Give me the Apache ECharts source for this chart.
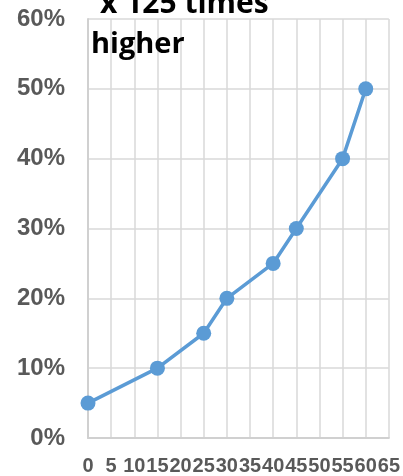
<!DOCTYPE html>
<html>
<head>
<meta charset="utf-8">
<script src="https://cdn.jsdelivr.net/npm/echarts@6/dist/echarts.min.js"></script>
<style>
  html, body { margin: 0; padding: 0; background: #fff; }
  #chart { width: 403px; height: 476px; }
</style>
</head>
<body>
<div id="chart"></div>
<script>
// x position and share (%) of each point
var xValues = [0, 15, 25, 30, 40, 45, 55, 60];
var yValues = [5, 10, 15, 20, 25, 30, 40, 50];
var note = ['x 125 times', 'higher'];

var myChart = echarts.init(document.getElementById('chart'));

var points = xValues.map(function (x, i) { return [x, yValues[i]]; });

var option = {
    animation: false,
    grid: { left: 88, right: 14, top: 19, bottom: 38 },
    xAxis: {
        type: 'value',
        min: 0,
        max: 65,
        interval: 5,
        axisLine: { show: true, lineStyle: { color: '#d0d0d0', width: 2 } },
        axisTick: { show: false },
        splitLine: { show: true, lineStyle: { color: '#d9d9d9', width: 1.5 } },
        axisLabel: {
            color: '#595959',
            fontFamily: 'Liberation Sans',
            fontWeight: 'bold',
            fontSize: 20,
            margin: 18
        }
    },
    yAxis: {
        type: 'value',
        min: 0,
        max: 60,
        interval: 10,
        axisLine: { show: true, lineStyle: { color: '#d0d0d0', width: 2 } },
        axisTick: { show: false },
        splitLine: { show: true, lineStyle: { color: '#d9d9d9', width: 1.5 } },
        axisLabel: {
            color: '#595959',
            fontFamily: 'Liberation Sans',
            fontWeight: 'bold',
            fontSize: 24,
            margin: 23,
            formatter: '{value}%'
        }
    },
    series: [{
        type: 'line',
        data: points,
        symbol: 'circle',
        symbolSize: 15,
        lineStyle: { color: '#5b9bd5', width: 3.5 },
        itemStyle: { color: '#5b9bd5' }
    }],
    graphic: [
        {
            type: 'text', left: 100, top: -11, z: 100,
            style: { text: note[0], fill: '#000', font: 'bold 30px "Open Sans"' }
        },
        {
            type: 'text', left: 91, top: 30, z: 100,
            style: { text: note[1], fill: '#000', font: 'bold 29px "Open Sans"' }
        }
    ]
};

myChart.setOption(option);
</script>
</body>
</html>
